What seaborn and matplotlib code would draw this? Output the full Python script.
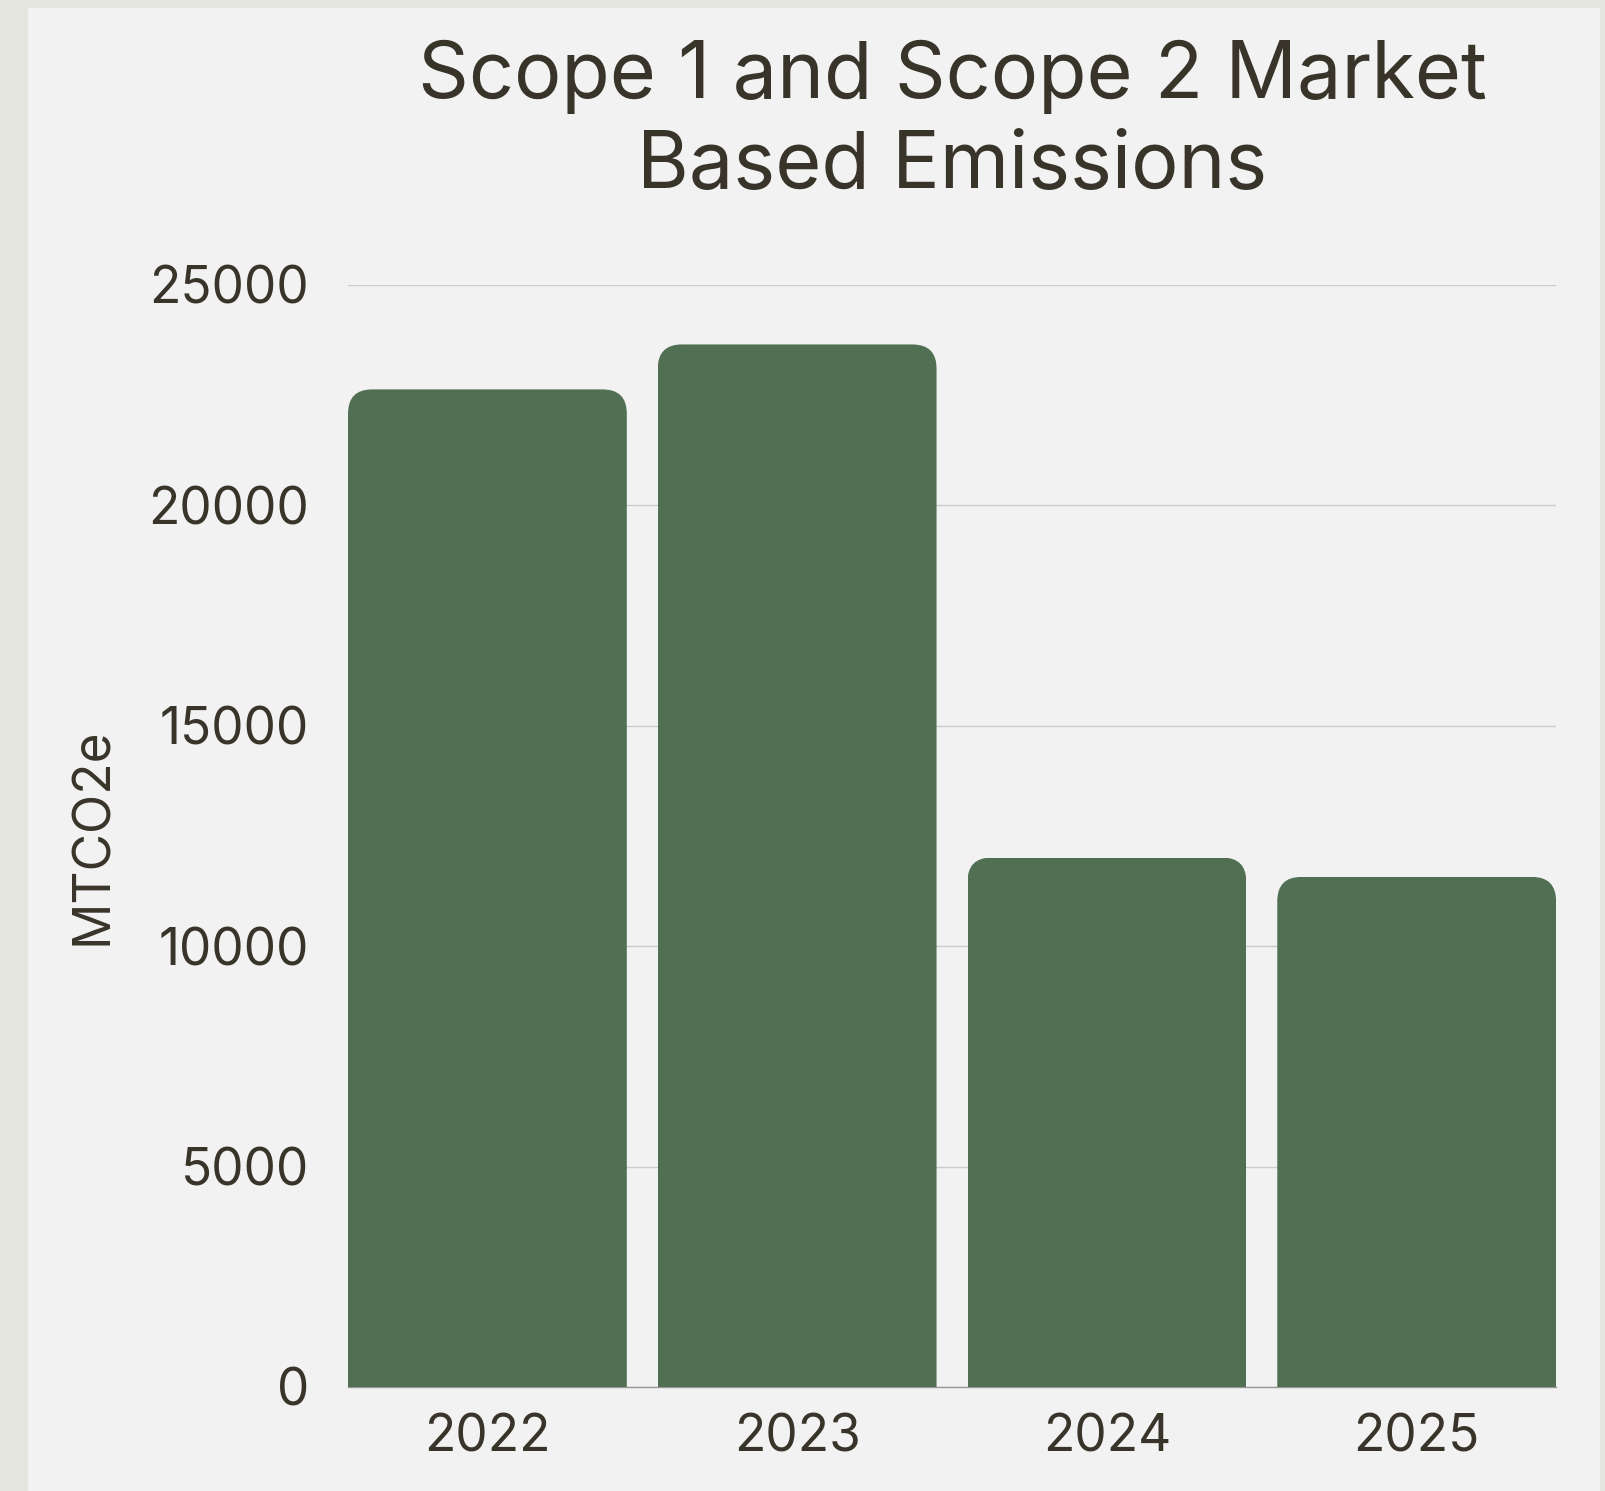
import matplotlib

matplotlib.use("Agg")
import matplotlib.pyplot as plt
import pandas as pd
import seaborn as sns
from matplotlib.patches import FancyBboxPatch, Rectangle

years = ["2022", "2023", "2024", "2025"]
emissions = [22630, 23650, 12010, 11570]
y_ticks = [0, 5000, 10000, 15000, 20000, 25000]

BAR = "#506f53"
PANEL = "#f2f2f2"
BORDER = "#e5e5e0"
TEXT = "#38342a"
BAR_W = 0.9

sns.set_theme(style="white")
plt.rcParams["font.family"] = ["Inter", "DejaVu Sans"]

df = pd.DataFrame({"Year": years, "MTCO2e": emissions})

fig = plt.figure(figsize=(16.06, 14.91), dpi=100, facecolor=BORDER)
fig.patches.append(
    Rectangle((28 / 1606, 0), (1600 - 28) / 1606, 1 - 8 / 1491,
              transform=fig.transFigure, facecolor=PANEL, edgecolor="none", zorder=-10)
)

ax = fig.add_axes([0.2167, 0.0698, 0.7522, 0.7391])
ax.set_facecolor(PANEL)

sns.barplot(data=df, x="Year", y="MTCO2e", color=BAR, width=BAR_W,
            saturation=1, ax=ax, zorder=3)

ax.set_xlim(-BAR_W / 2, len(years) - 1 + BAR_W / 2)
ax.set_ylim(0, 25000)

# rounded top corners: clip each bar with a rounded box that runs below the base
x_span = len(years) - 1 + BAR_W
aspect = (25000 / 1102) / (x_span / 1208)
for bar in ax.patches:
    x, w, h = bar.get_x(), bar.get_width(), bar.get_height()
    clip = FancyBboxPatch((x, -3000), w, h + 3000,
                          boxstyle="round,pad=0,rounding_size=0.078",
                          mutation_aspect=aspect,
                          transform=ax.transData, facecolor="none", edgecolor="none")
    bar.set_clip_path(clip)
    bar.set_edgecolor("none")

ax.set_yticks(y_ticks)
ax.set_yticklabels([str(t) for t in y_ticks])
ax.yaxis.grid(True, color="#cccccc", linewidth=1)
ax.set_axisbelow(True)

for side in ["top", "right", "left"]:
    ax.spines[side].set_visible(False)
ax.spines["bottom"].set_color("#999999")
ax.spines["bottom"].set_linewidth(1)

ax.tick_params(axis="y", length=0, pad=28, labelsize=37, labelcolor=TEXT)
ax.tick_params(axis="x", length=0, pad=19, labelsize=37, labelcolor=TEXT)

ax.set_xlabel("")
ax.set_ylabel("MTCO2e", fontsize=37, color=TEXT)
ax.yaxis.set_label_coords(-0.19, 0.5)

fig.text(952 / 1606, 1 - 40 / 1491, "Scope 1 and Scope 2 Market\nBased Emissions",
         ha="center", va="top", fontsize=57, color=TEXT, linespacing=1.28)

fig.savefig("out.png", dpi=100, facecolor=BORDER)
